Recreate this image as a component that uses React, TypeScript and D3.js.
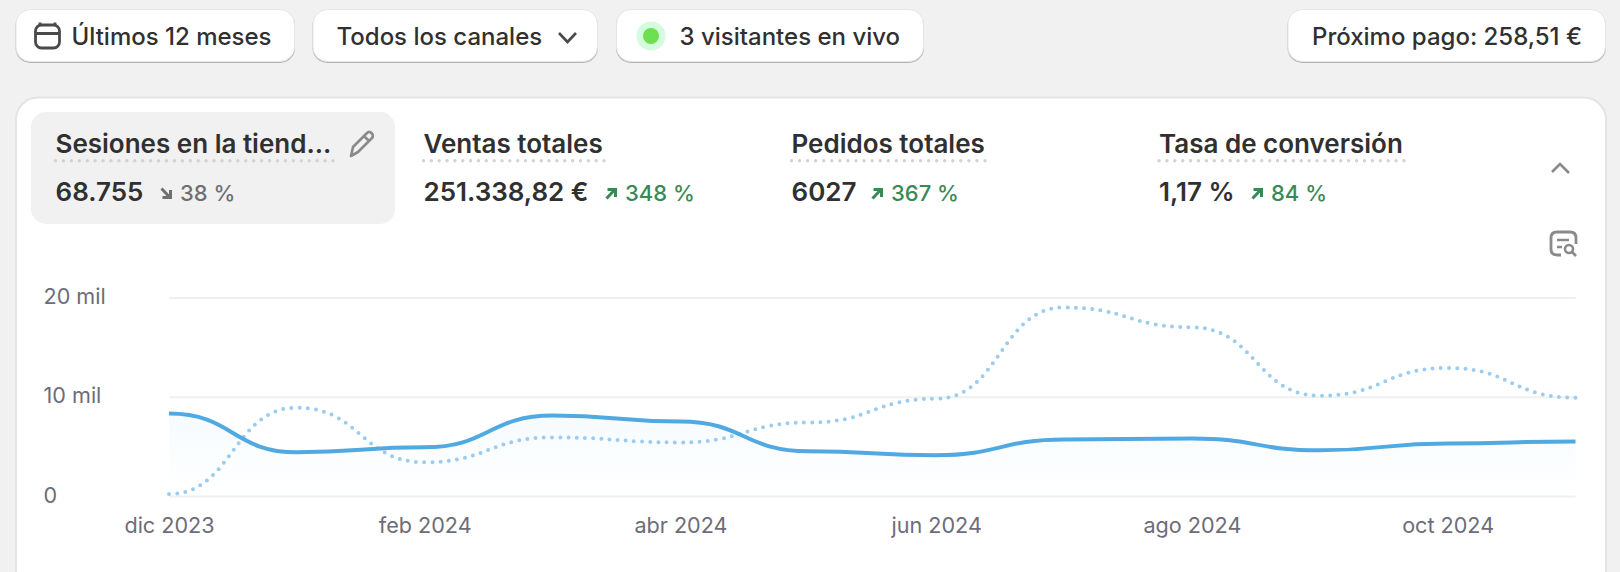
import { useEffect, useRef } from 'react';
import * as d3 from 'd3';

const months = ['dic 2023', 'ene 2024', 'feb 2024', 'mar 2024', 'abr 2024', 'may 2024', 'jun 2024', 'jul 2024', 'ago 2024', 'sep 2024', 'oct 2024', 'nov 2024'];
const currentSessions = [8.3, 4.4, 4.9, 8.1, 7.5, 4.5, 4.1, 5.7, 5.8, 4.6, 5.3, 5.5];
const previousSessions = [0.2, 8.9, 3.4, 5.9, 5.4, 7.4, 9.8, 19.0, 17.0, 10.1, 12.9, 9.9];
const yTicks = [0, 10, 20];
const xTicks = ['dic 2023', 'feb 2024', 'abr 2024', 'jun 2024', 'ago 2024', 'oct 2024'];

const metricTitles = ['Sesiones en la tiend...', 'Ventas totales', 'Pedidos totales', 'Tasa de conversión'];
const metricValues = ['68.755', '251.338,82 €', '6027', '1,17 %'];
const metricDeltas = ['38 %', '348 %', '367 %', '84 %'];
const metricDirections = ['down', 'up', 'up', 'up'];

const FONT = 'Inter, sans-serif';
const W = 1620;
const H = 572;
const INK = '#303030';
const BLUE = '#51a9e2';

const tabX = [55.5, 423.5, 791.5, 1159];
const underlineEnd = [333, 604, 985, 1404];
const valueGap = [180, 625, 891, 1271];

const margin = { left: 169, right: 1575.5, top: 297.5, bottom: 496 };

const Button = ({ x0, x1 }: { x0: number; x1: number }) => (
  <g>
    <rect x={x0} y={10.5} width={x1 - x0} height={52.5} rx={15} fill="#b4b4b4" />
    <rect x={x0 + 0.5} y={9.5} width={x1 - x0 - 1} height={52} rx={14.5} fill="#fff" stroke="#e6e6e6" />
  </g>
);

const Arrow = ({ x, dir }: { x: number; dir: string }) => {
  const color = dir === 'up' ? '#388a55' : '#6f6f6f';
  return (
    <g transform={`translate(${x},187)`} fill="none" stroke={color} strokeWidth={3}>
      {dir === 'up' ? (
        <path d="M1.5 11.5 L9.5 3 M2.5 2.5 H10.5 V10" />
      ) : (
        <path d="M1.5 1.5 L9.5 10 M10.5 3 V10.5 H2.5" />
      )}
    </g>
  );
};

export default function App() {
  const chartRef = useRef<SVGGElement>(null);

  useEffect(() => {
    if (!chartRef.current) return;
    const g = d3.select(chartRef.current);
    g.selectAll('*').remove();

    const x = d3.scalePoint<string>().domain(months).range([margin.left, margin.right]);
    const y = d3.scaleLinear().domain([0, 20]).range([margin.bottom, margin.top]);

    const yAxis = g
      .append('g')
      .attr('transform', `translate(${margin.left},0)`)
      .call(
        d3
          .axisLeft(y)
          .tickValues(yTicks)
          .tickSize(-(margin.right - margin.left))
          .tickFormat((d) => (+d === 0 ? '0' : `${d} mil`))
      );
    yAxis.select('.domain').remove();
    yAxis.selectAll('line').attr('stroke', '#f0f0f0').attr('stroke-width', 2);
    yAxis
      .selectAll('text')
      .attr('x', 43.5 - margin.left)
      .attr('dy', '0.28em')
      .style('text-anchor', 'start')
      .style('font', `400 21.6px ${FONT}`)
      .attr('fill', '#6d6c78');

    const xAxis = g
      .append('g')
      .attr('transform', `translate(0,${margin.bottom})`)
      .call(d3.axisBottom(x).tickValues(xTicks).tickSize(0).tickPadding(30));
    xAxis.select('.domain').remove();
    xAxis
      .selectAll('text')
      .attr('dy', '0.32em')
      .style('font', `400 21.6px ${FONT}`)
      .attr('fill', '#6d6c78');

    const defs = g.append('defs');
    const grad = defs
      .append('linearGradient')
      .attr('id', 'sessionsFill')
      .attr('x1', 0)
      .attr('x2', 0)
      .attr('y1', 0)
      .attr('y2', 1);
    grad.append('stop').attr('offset', '0%').attr('stop-color', BLUE).attr('stop-opacity', 0.05);
    grad.append('stop').attr('offset', '100%').attr('stop-color', BLUE).attr('stop-opacity', 0);

    const area = d3
      .area<number>()
      .x((_, i) => x(months[i])!)
      .y0(margin.bottom)
      .y1((d) => y(d))
      .curve(d3.curveBumpX);
    const line = d3
      .line<number>()
      .x((_, i) => x(months[i])!)
      .y((d) => y(d))
      .curve(d3.curveBumpX);

    g.append('path').attr('d', area(currentSessions)).attr('fill', 'url(#sessionsFill)');
    g.append('path')
      .attr('d', line(previousSessions))
      .attr('fill', 'none')
      .attr('stroke', '#9ccdee')
      .attr('stroke-width', 4)
      .attr('stroke-linecap', 'round')
      .attr('stroke-dasharray', '0 8.2');
    g.append('path')
      .attr('d', line(currentSessions))
      .attr('fill', 'none')
      .attr('stroke', BLUE)
      .attr('stroke-width', 4);
  }, []);

  return (
    <svg
      width={W}
      height={H}
      viewBox={`0 0 ${W} ${H}`}
      style={{ position: 'absolute', left: 0, top: 0, fontFamily: FONT }}
    >
      <rect width={W} height={H} fill="#f1f1f1" />

      <Button x0={15.5} x1={295} />
      <Button x0={312.5} x1={598} />
      <Button x0={616} x1={924} />
      <Button x0={1287.5} x1={1606} />

      <g fill="none" stroke="#4a4a4a" strokeWidth={2.8}>
        <rect x={35.5} y={25} width={24} height={23} rx={6} />
        <path d="M35.5 33.5 H59.5 M40 24 V22.5 M55 24 V22.5" />
      </g>
      <g fill={INK} fontSize={24} fontWeight={500}>
        <text x={71.5} y={44.5}>Últimos 12 meses</text>
        <text x={336.5} y={44.5}>Todos los canales</text>
        <text x={679.5} y={44.5}>3 visitantes en vivo</text>
        <text x={1312} y={44.5}>Próximo pago: 258,51 €</text>
      </g>
      <path d="M559 33 L567.5 42 L576 33" fill="none" stroke="#4a4a4a" strokeWidth={2.6} />
      <circle cx={651} cy={36} r={14.5} fill="#d5fbdf" />
      <circle cx={651} cy={36} r={8} fill="#6ee04f" />

      <rect x={16} y={97.5} width={1590} height={520} rx={22} fill="#fff" stroke="#e4e4e4" strokeWidth={2} />
      <rect x={31} y={112} width={364} height={112} rx={15} fill="#f1f1f1" />

      {metricTitles.map((t, i) => {
        const len = underlineEnd[i] - tabX[i];
        return (
          <g key={t}>
            <text x={tabX[i]} y={153} fill={INK} fontSize={26} fontWeight={600}>{t}</text>
            <line
              x1={tabX[i]}
              x2={underlineEnd[i] + 0.2}
              y1={160.7}
              y2={160.7}
              stroke="#d2d2d2"
              strokeWidth={3.4}
              strokeLinecap="round"
              strokeDasharray={`0 ${len / Math.round(len / 8)}`}
            />
            <text x={tabX[i]} y={201} fill={INK} fontSize={26} fontWeight={600}>{metricValues[i]}</text>
            <Arrow x={valueGap[i] - 20} dir={metricDirections[i]} />
            <text
              x={valueGap[i]}
              y={201}
              fill={metricDirections[i] === 'up' ? '#388a55' : '#6f6f6f'}
              fontSize={22}
              fontWeight={500}
            >
              {metricDeltas[i]}
            </text>
          </g>
        );
      })}

      <g fill="none" stroke="#8a8a8a" strokeWidth={2.6} strokeLinejoin="round">
        <path d="M351 156 L353 147 L367 133 C370 130 375 135 372 138 L358 152 Z M364 136 L369 141" />
        <path d="M1552 163 L1561 172 L1569 164" transform="rotate(180 1560.5 168)" />
        <g transform="translate(6,-2)">
          <path d="M1551 257 C1547 257 1545 255 1545 251 V240 C1545 236 1547 234 1551 234 H1564 C1568 234 1570 236 1570 240 V246 M1551 257 H1555" strokeWidth={2.8} />
          <path d="M1551 242 H1563 M1551 249 H1556" />
          <circle cx={1563} cy={251} r={4} />
          <path d="M1566 254 L1570 258" />
        </g>
      </g>

      <g ref={chartRef} />
    </svg>
  );
}
